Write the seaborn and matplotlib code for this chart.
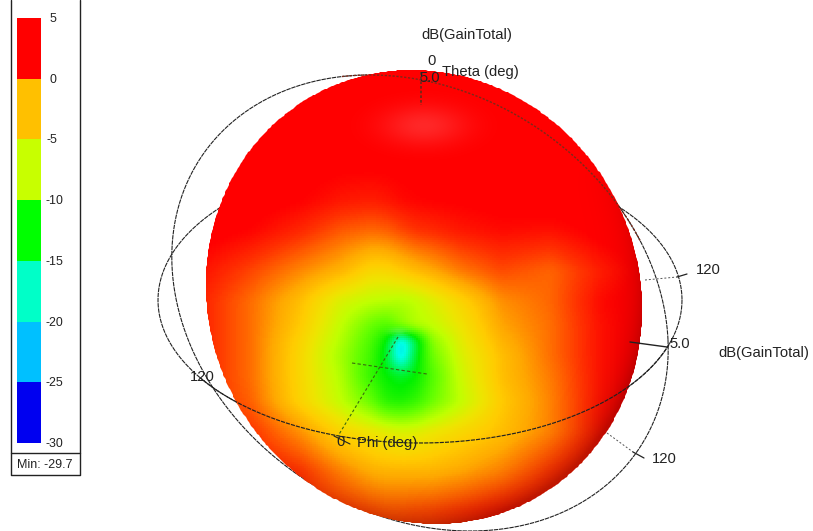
import numpy as np
import matplotlib
matplotlib.use("Agg")
import matplotlib.pyplot as plt
from matplotlib.colors import LinearSegmentedColormap, ListedColormap
from matplotlib.patches import Polygon
import seaborn as sns

sns.set_theme(style="white")
plt.rcParams["font.family"] = ["Liberation Sans", "DejaVu Sans"]

# ---- legend data
legend_ticks = [5, 0, -5, -10, -15, -20, -25, -30]
legend_colors = ["#FF0000", "#FFC000", "#C8FF00", "#00FF00", "#00FFC8", "#00C0FF", "#0000F0"]
min_label = "Min: -29.7"

gain_x = [200, 250, 300, 340, 370, 385, 400, 415, 430, 460, 500, 550, 600, 650]
gain_y = [60, 110, 160, 200, 230, 270, 300, 325, 340, 355, 375, 400, 430, 470, 510, 530]
gain_rows = [
    [5, 5, 5, 5, 5, 5, 5, 5, 5, 5, 5, 5, 5, 5],
    [5, 5, 5, 5, 4.8, 4.6, 4.5, 4.5, 4.6, 4.8, 5, 5, 5, 5],
    [5, 5, 5, 4.8, 4.8, 4.8, 4.8, 4.8, 4.8, 4.8, 4.8, 5, 5, 5],
    [5, 5, 4.5, 3.8, 3.6, 3.8, 4.2, 4.4, 4.5, 4.6, 4.8, 5, 5, 5],
    [5, 4.4, 3.3, 2, 1.6, 1.8, 2.4, 3, 3.2, 3.8, 4.2, 4, 4.8, 5],
    [4, 2.5, .8, -.5, -2.2, -2.2, -1.5, -.8, -.2, 1.2, 2.4, 1.7, 3.6, 5],
    [3.5, 1.5, -1, -4, -5, -5.2, -5.5, -5, -4, -2, .6, 1.7, 4.2, 5],
    [3.5, 1.5, -1.5, -5, -8, -9, -7, -5.5, -5, -3, 0, 1.5, 4, 5],
    [3.5, 1.5, -2, -5.5, -9, -12, -20, -14, -7, -3.5, -.5, 1.5, 4, 5],
    [3.5, 1.5, -2.2, -6, -9.5, -13, -20, -13, -8, -4, -1, 1.5, 4, 5],
    [3.5, 1.5, -2.2, -5.5, -10, -12, -13, -12, -9, -4.5, -1, 1.2, 4, 5],
    [3.5, 1.8, -2, -5, -8, -10.5, -11, -10, -8, -5, -1.5, 1, 4, 5],
    [3.5, 3, .5, -2, -3, -3.5, -4, -3.8, -3.2, -2.2, -1, 1, 4, 5],
    [4, 4, 3, 1, -.3, -.5, -.5, -.5, -.5, 0, 1, 3, 4.5, 5],
    [4, 4, 3.5, 3, 2.5, 2.2, 2.2, 2.4, 2.5, 3, 3.8, 4.5, 5, 5],
    [4, 4, 3.5, 3, 3, 3, 3, 3, 3, 3.5, 4, 4.5, 5, 5],
]
# continuous colour ramp of the surface
ramp_db = [-30, -25, -18, -12, -8, -5, -3, -1.5, 0, 1.5, 3, 4.5, 5]
ramp_colors = ["#0000FF", "#0078FF", "#00FFE6", "#00F000", "#64FF00", "#C0FF00",
               "#EEE400", "#FFCC00", "#FFA800", "#FF6E00", "#FF3200", "#FF0000", "#FF0000"]

W, H = 813, 531
fig = plt.figure(figsize=(W / 100, H / 100), dpi=100, facecolor="white")


def frac_axes(x0, y0, x1, y1, **kw):
    return fig.add_axes([x0 / W, 1 - y1 / H, (x1 - x0) / W, (y1 - y0) / H], **kw)


def ring(cx, cy, ax_x, ax_xs, ax_ys, ax_y, t0, t1):
    t = np.radians(np.linspace(t0, t1, 400))
    return (cx + ax_x * np.cos(t) + ax_xs * np.sin(t),
            cy + ax_ys * np.cos(t) + ax_y * np.sin(t))


# ---- rings behind the sphere
back = frac_axes(0, 0, W, H, zorder=1)
back.set_xlim(0, W); back.set_ylim(H, 0); back.axis("off")
INK = "#222222"
for args in [(420, 303, 248, 10, 37, 225, 0, 360), (420, 300, 262, 0, 0, 143, 0, 360)]:
    back.plot(*ring(*args), color=INK, lw=0.8, ls=(0, (4, 0.7)))

# ---- sphere surface
xx = np.arange(200, 650, 2.0)
yy = np.arange(60, 530, 2.0)
g = np.array(gain_rows, dtype=float)
g1 = np.array([np.interp(xx, gain_x, r) for r in g])
field = np.array([np.interp(yy, gain_y, c) for c in g1.T]).T


def smooth(a, n=5, passes=2):
    k = np.ones(n) / n
    for _ in range(passes):
        p = np.pad(a, ((n, n), (0, 0)), mode="edge")
        a = np.apply_along_axis(lambda v: np.convolve(v, k, mode="same"), 0, p)[n:-n]
        p = np.pad(a, ((0, 0), (n, n)), mode="edge")
        a = np.apply_along_axis(lambda v: np.convolve(v, k, mode="same"), 1, p)[:, n:-n]
    return a


field = smooth(field)
nodes = [(v - ramp_db[0]) / (ramp_db[-1] - ramp_db[0]) for v in ramp_db]
surface_cmap = LinearSegmentedColormap.from_list("surface", list(zip(nodes, ramp_colors)), N=512)

surf = frac_axes(200, 60, 650, 530, zorder=2)
sns.heatmap(field, ax=surf, cmap=surface_cmap, vmin=-30, vmax=5, cbar=False,
            xticklabels=False, yticklabels=False, rasterized=True)
surf.set_facecolor("none")

top = frac_axes(0, 0, W, H, zorder=3)
top.set_xlim(0, W); top.set_ylim(H, 0); top.axis("off"); top.patch.set_alpha(0)
t = np.linspace(0, 2 * np.pi, 720)
ox = 424 + 218 * np.cos(t) + 9 * np.sin(t)
oy = 297 + 227 * np.sin(t) + 3 * np.cos(t)
outline = Polygon(np.c_[ox, oy], closed=True, transform=top.transData, fc="none", ec="none")
top.add_patch(outline)
surf.collections[0].set_clip_path(outline)

# rim shading (right and lower right only) and soft highlights
gx, gy = np.meshgrid(np.arange(200, 650, 1.0), np.arange(60, 530, 1.0))
dx = (gx - 9 * (gy - 297) / 227 - 424) / 218
dy = (gy - 297) / 227
r = np.sqrt(dx ** 2 + dy ** 2)
shade = np.clip(0.4 * r ** 14 * np.clip(0.5 * dx + 0.6 * dy, 0, 1), 0, 0.25)
rgba = np.zeros(r.shape + (4,))
rgba[..., 3] = shade
im = top.imshow(rgba, extent=(200, 650, 530, 60), aspect="auto", zorder=1, interpolation="bilinear")
im.set_clip_path(outline)
glow = np.ones(r.shape + (4,))
glow[..., 3] = (0.16 * np.exp(-((gx - 423) / 42) ** 2 - ((gy - 125) / 20) ** 2)
                + 0.22 * np.exp(-((gx - 398) / 10) ** 2 - ((gy - 331) / 4) ** 2))
im2 = top.imshow(glow, extent=(200, 650, 530, 60), aspect="auto", zorder=1, interpolation="bilinear")
im2.set_clip_path(outline)
top.set_xlim(0, W); top.set_ylim(H, 0)

# ---- guide lines over the sphere
DOT = (0, (1.6, 1.2))
top.plot(*ring(420, 303, 248, 10, 37, 225, -106, -25), color="#7a2a1a", lw=1.0, ls=DOT, zorder=4)
top.plot(*ring(420, 300, 262, 0, 0, 143, 18, 147), color=INK, lw=0.85, ls=(0, (3.5, 0.9)), zorder=4)
top.plot([421, 421], [72, 105], color="#6a2a1a", lw=1.2, ls=DOT, zorder=4)
top.plot([352, 427], [363, 374], color="#3a6a10", lw=0.8, ls=(0, (3, 2)), zorder=4)
top.plot([398, 338], [337, 436], color="#3a6a10", lw=0.8, ls=(0, (2.5, 2)), zorder=4)
top.plot([334, 350], [436, 444], color=INK, lw=0.8, zorder=4)
top.plot([630, 667], [342, 347], color=INK, lw=1.0, zorder=4)
top.plot([645, 677], [280, 277], color="#555555", lw=0.7, ls=(0, (2, 2)), zorder=4)
top.plot([677, 687], [277, 274], color=INK, lw=0.9, zorder=4)
top.plot([607, 633], [433, 452], color="#555555", lw=0.7, ls=(0, (2, 2)), zorder=4)
top.plot([633, 644], [452, 458], color=INK, lw=0.9, zorder=4)

# ---- texts
TXT = "#222222"
labels = [("dB(GainTotal)", 467, 35), ("0", 432, 61), ("5.0", 430, 78), ("Theta (deg)", 480, 72),
          ("120", 708, 270), ("5.0", 680, 344), ("dB(GainTotal)", 764, 353), ("120", 664, 459),
          ("120", 202, 377), ("0", 341, 442), ("Phi (deg)", 387, 443)]
for s, x, y in labels:
    top.text(x, y, s, fontsize=10.6, color=TXT, ha="center", va="center", zorder=5)

# ---- legend
leg_cells = np.arange(len(legend_colors)).reshape(-1, 1)
leg = frac_axes(17, 18, 41, 443, zorder=4)
sns.heatmap(leg_cells, ax=leg, cmap=ListedColormap(legend_colors), cbar=False,
            xticklabels=False, yticklabels=False)
y0, y1 = 18, 443
for i, v in enumerate(legend_ticks):
    y = y0 + (y1 - y0) * i / (len(legend_ticks) - 1)
    lx = 49.5 if v >= 0 else (46 if v == -5 else 45)
    top.text(lx, y + 1, str(v), fontsize=8.9, color=TXT, ha="left", va="center", zorder=5)
top.plot([11, 11, 79.5, 79.5], [0, 475, 475, 0], color="#222222", lw=1.0, zorder=5, clip_on=False)
top.plot([11, 79.5], [453, 453], color="#222222", lw=1.0, zorder=5)
top.text(45, 465, min_label, fontsize=9, color=TXT, ha="center", va="center", zorder=5)

fig.savefig("out.png", dpi=100, facecolor="white")
